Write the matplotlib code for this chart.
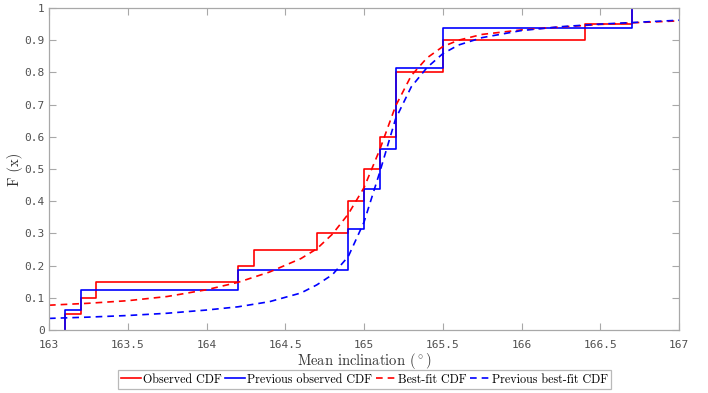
import matplotlib
matplotlib.use("Agg")
import matplotlib.pyplot as plt
import numpy as np

# Observed empirical CDF (current data)
obs_x = [163.1, 163.2, 163.3, 164.2, 164.3, 164.7, 164.9, 165.0, 165.1, 165.2, 165.5, 166.4, 166.7]
obs_F = [0.05, 0.10, 0.15, 0.20, 0.25, 0.30, 0.40, 0.50, 0.60, 0.80, 0.90, 0.95, 1.00]

# Previous observed empirical CDF
prev_x = [163.1, 163.2, 164.2, 164.9, 165.0, 165.1, 165.2, 165.5, 166.7]
prev_F = [0.0625, 0.125, 0.1875, 0.3125, 0.4375, 0.5625, 0.8125, 0.9375, 1.0]

# Best-fit CDF
fit_x = [163.0, 163.25, 163.5, 163.75, 164.0, 164.2, 164.4, 164.6, 164.7, 164.8, 164.9,
         165.0, 165.1, 165.2, 165.3, 165.4, 165.5, 165.6, 165.75, 166.0, 166.25, 166.5, 166.75, 167.0]
fit_F = [0.077, 0.083, 0.091, 0.104, 0.125, 0.148, 0.180, 0.222, 0.252, 0.298, 0.360,
         0.442, 0.560, 0.695, 0.790, 0.845, 0.880, 0.900, 0.918, 0.932, 0.941, 0.949, 0.955, 0.960]

# Previous best-fit CDF
pfit_x = fit_x
pfit_F = [0.036, 0.040, 0.045, 0.052, 0.062, 0.072, 0.088, 0.115, 0.140, 0.172, 0.228,
          0.335, 0.490, 0.655, 0.755, 0.815, 0.858, 0.885, 0.908, 0.930, 0.942, 0.950, 0.956, 0.962]

xticks = [163, 163.5, 164, 164.5, 165, 165.5, 166, 166.5, 167]
xticklabels = ["163", "163.5", "164", "164.5", "165", "165.5", "166", "166.5", "167"]
yticks = [0, 0.1, 0.2, 0.3, 0.4, 0.5, 0.6, 0.7, 0.8, 0.9, 1.0]
yticklabels = ["0", "0.1", "0.2", "0.3", "0.4", "0.5", "0.6", "0.7", "0.8", "0.9", "1"]

plt.rcParams['mathtext.fontset'] = 'cm'
serif = ['cmr10', 'DejaVu Serif']

fig = plt.figure(figsize=(7.08, 3.93), dpi=100)
ax = fig.add_axes([49/708, 63/393, 630/708, 322/393])

lw = 1.2
ax.step([obs_x[0]] + obs_x, [0] + obs_F, where='post', color='red', lw=lw, label='Observed CDF')
ax.step([prev_x[0]] + prev_x, [0] + prev_F, where='post', color='blue', lw=lw, label='Previous observed CDF')
ax.plot(fit_x, fit_F, color='red', lw=lw, dashes=(4, 3), label='Best-fit CDF')
ax.plot(pfit_x, pfit_F, color='blue', lw=lw, dashes=(4, 3), label='Previous best-fit CDF')

ax.set_xlim(163, 167)
ax.set_ylim(0, 1)
ax.set_xticks(xticks)
ax.set_xticklabels(xticklabels)
ax.set_yticks(yticks)
ax.set_yticklabels(yticklabels)

spine_c = '#a8a8a8'
for s in ax.spines.values():
    s.set_color(spine_c)
    s.set_linewidth(0.9)
ax.tick_params(direction='in', length=5, width=0.8, color=spine_c, top=True, right=True,
               labelsize=8, labelcolor='#505050')
ax.tick_params(axis='x', pad=7)
ax.tick_params(axis='y', pad=3)
for lab in ax.get_xticklabels() + ax.get_yticklabels():
    lab.set_family('DejaVu Sans Mono')

ax.set_xlabel(r"Mean inclination ($^\circ$)", family=serif, fontsize=10.5, color='#333333', labelpad=1)
ax.set_ylabel("F (x)", family=serif, fontsize=10.5, color='#333333', va='center')
ax.yaxis.set_label_coords(-(49 - 15) / 630, 0.5)

leg = fig.legend(loc='center', bbox_to_anchor=(364.5/708, 1 - 379.5/393), ncol=4,
                 prop={'family': serif, 'size': 8.7}, frameon=True, fancybox=False,
                 handlelength=1.6, handletextpad=0.2, columnspacing=0.3, borderpad=0.25,
                 borderaxespad=0)
leg.get_frame().set_edgecolor('#a8a8a8')
leg.get_frame().set_linewidth(0.9)

fig.savefig('out.png', dpi=100)
